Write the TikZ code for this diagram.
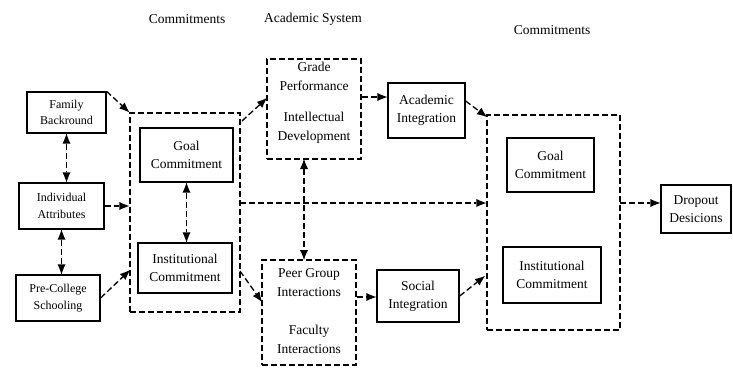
\documentclass[tikz,border=0pt]{standalone}
\usepackage{fontspec}
\setmainfont{Liberation Serif}
\usetikzlibrary{arrows.meta}
\begin{document}
\begin{tikzpicture}[x=1pt,y=-1pt,
  box/.style={draw, line width=1.3pt, align=center, inner sep=0pt, font=\fontsize{13.5}{18}\selectfont},
  sbox/.style={box, font=\fontsize{12}{16.5}\selectfont},
  dbox/.style={draw, line width=1.3pt, dash pattern=on 6pt off 3pt, inner sep=0pt},
  lbl/.style={align=center, inner sep=0pt, font=\fontsize{13.5}{19}\selectfont},
  hdr/.style={inner sep=0pt, font=\fontsize{13.5}{16}\selectfont},
  tipk/.tip={Latex[length=10pt,width=8pt,line width=0pt]},
  dar/.style={line width=1.3pt, dash pattern=on 6pt off 3pt, -tipk},
  ddar/.style={dar, tipk-tipk}]
\useasboundingbox (0,0) rectangle (733,370);

% headers
\node[hdr] (h1) at (187,19) {Commitments};
\node[hdr] (h2) at (313,19) {Academic System};
\node[hdr] (h3) at (552,30) {Commitments};

% dashed containers
\node[dbox, minimum width=110pt, minimum height=199pt] (contL) at (185,212.5) {};
\node[dbox, minimum width=94pt, minimum height=100pt] (acad) at (314,109) {};
\node[dbox, minimum width=94pt, minimum height=105pt] (social) at (309,312.5) {};
\node[dbox, minimum width=133pt, minimum height=215pt] (contR) at (553.5,222.5) {};

% texts inside dashed boxes
\node[lbl] (gp) at (314,76) {Grade\\Performance};
\node[lbl] (id) at (314,128) {Intellectual\\Development};
\node[lbl] (pg) at (309,283) {Peer Group\\Interactions};
\node[lbl] (fi) at (309,339) {Faculty\\Interactions};

% solid boxes
\node[sbox, minimum width=79pt, minimum height=41pt] (fam) at (66.5,112.5) {Family\\Backround};
\node[sbox, minimum width=85pt, minimum height=46pt] (ind) at (61.5,206) {Individual\\Attributes};
\node[sbox, minimum width=84pt, minimum height=46pt] (pre) at (58,298) {Pre-College\\Schooling};
\node[box, minimum width=93pt, minimum height=54pt] (goalL) at (186.5,155) {Goal\\Commitment};
\node[box, minimum width=94pt, minimum height=50pt] (instL) at (185,268) {Institutional\\Commitment};
\node[box, minimum width=77pt, minimum height=55pt] (acint) at (426.5,110.5) {Academic\\Integration};
\node[box, minimum width=82pt, minimum height=52pt] (socint) at (418,296) {Social\\Integration};
\node[box, minimum width=87pt, minimum height=54pt] (goalR) at (550.5,165) {Goal\\Commitment};
\node[box, minimum width=98pt, minimum height=56pt] (instR) at (552,275) {Institutional\\Commitment};
\node[box, minimum width=70pt, minimum height=48pt] (drop) at (696,209) {Dropout\\Desicions};

% helper coordinates
\coordinate (preEnd) at (130,270);
\coordinate (aStart) at (242,121);
\coordinate (aEnd) at (267,98);
\coordinate (midStart) at (240,203);
\coordinate (sStart) at (240,271);
\coordinate (sEnd) at (262,302);
\coordinate (vTop) at (304,159);
\coordinate (vBot) at (304,260);
\coordinate (acEnd) at (487,117);
\coordinate (siEnd) at (485,276);
\coordinate (drStart) at (620,203);

% connectors
\draw[dar] (fam.north east) -- (contL.north west);
\draw[dar] (ind.east) -- (ind.east -| contL.west);
\draw[dar] (pre.east) -- (preEnd);
\draw[ddar] (fam.south) -- (fam.south |- ind.north);
\draw[ddar] (ind.south) -- (ind.south |- pre.north);
\draw[ddar] (goalL.south) -- (goalL.south |- instL.north);
\draw[dar] (aStart) -- (aEnd);
\draw[dar] (midStart) -- (midStart -| contR.west);
\draw[ddar] (vTop) -- (vBot);
\draw[dar] (sStart) -- (sEnd);
\draw[dar] (acad.east |- 0,97) -- (acint.west |- 0,97);
\draw[dar] (acint.east |- 0,101) -- (acEnd);
\draw[dar] (social.east |- 0,297) -- (socint.west |- 0,297);
\draw[dar] (socint.east) -- (siEnd);
\draw[dar] (drStart) -- (drStart -| drop.west);
\end{tikzpicture}
\end{document}
